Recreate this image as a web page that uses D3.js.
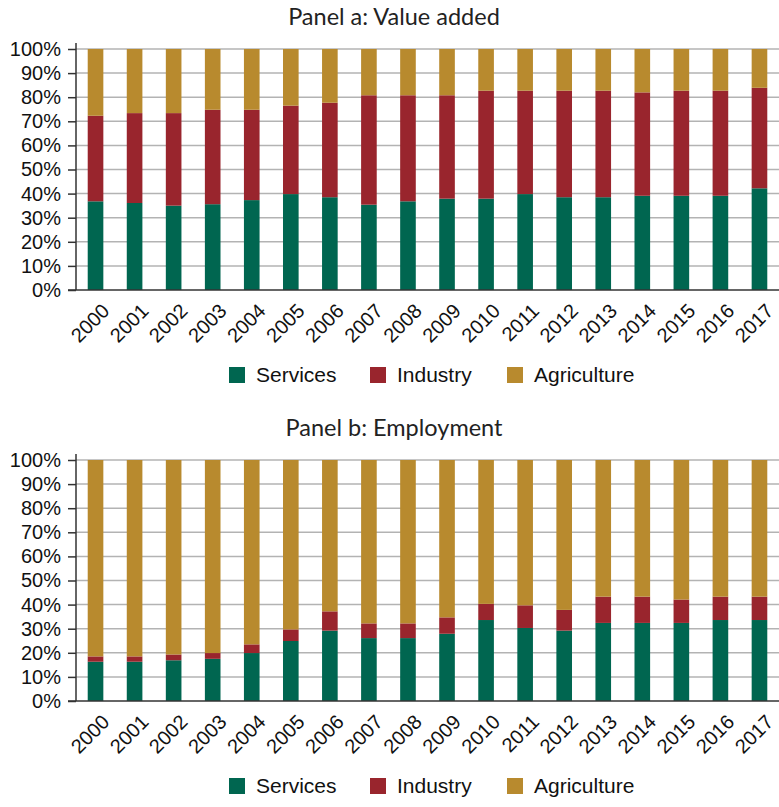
<!DOCTYPE html>
<html>
<head>
<meta charset="utf-8">
<script src="https://cdn.jsdelivr.net/npm/d3@7"></script>
<style>
  body { margin: 0; background: #fff; }
  svg { display: block; }
</style>
</head>
<body>
<div id="chart"></div>
<script>
// years on the x axis
var years = ["2000","2001","2002","2003","2004","2005","2006","2007","2008",
             "2009","2010","2011","2012","2013","2014","2015","2016","2017"];
var sectors = ["Services", "Industry", "Agriculture"];
var yTicks = [0, 10, 20, 30, 40, 50, 60, 70, 80, 90, 100];

// Panel a: value added shares (%)
var vaServices = [36.8, 36.1, 35.0, 35.6, 37.3, 39.8, 38.5, 35.4, 36.8, 37.9, 37.9, 39.8, 38.5, 38.5, 39.1, 39.1, 39.1, 42.2];
var vaIndustry = [35.5, 37.3, 38.4, 39.2, 37.5, 36.7, 39.2, 45.4, 44.0, 42.9, 44.8, 42.9, 44.2, 44.2, 42.9, 43.6, 43.6, 41.7];
var vaAgriculture = [27.7, 26.6, 26.6, 25.2, 25.2, 23.5, 22.3, 19.2, 19.2, 19.2, 17.3, 17.3, 17.3, 17.3, 18.0, 17.3, 17.3, 16.1];

// Panel b: employment shares (%)
var emServices = [16.3, 16.3, 16.9, 17.5, 19.9, 24.9, 29.2, 26.1, 26.1, 27.9, 33.6, 30.3, 29.2, 32.4, 32.4, 32.4, 33.6, 33.6];
var emIndustry = [2.2, 2.2, 2.4, 2.4, 3.6, 4.8, 8.0, 6.1, 6.1, 6.8, 6.7, 9.4, 8.6, 10.9, 10.9, 9.7, 9.7, 9.7];
var emAgriculture = [81.5, 81.5, 80.7, 80.1, 76.5, 70.3, 62.8, 67.8, 67.8, 65.3, 59.7, 60.3, 62.2, 56.7, 56.7, 57.9, 56.7, 56.7];

var colors = d3.scaleOrdinal()
  .domain(sectors)
  .range(["#006650", "#99252d", "#b88a2e"]);

var w = 779, h = 807;

var svg = d3.select("#chart").append("svg")
  .attr("width", w)
  .attr("height", h);

function buildRows(s, ind, ag) {
  return years.map(function(y, i) {
    return { Year: y, Services: s[i], Industry: ind[i], Agriculture: ag[i] };
  });
}

function drawPanel(title, rows, top) {
  var x0 = 76, x1 = 779;
  var yTop = top + 49, yBot = top + 290;

  var xScale = d3.scaleBand()
    .domain(years)
    .range([x0, x1])
    .paddingInner(0.6)
    .paddingOuter(0.3);

  var yScale = d3.scaleLinear()
    .domain([0, 100])
    .range([yBot, yTop]);

  var g = svg.append("g");

  // title
  g.append("text")
    .attr("x", 394)
    .attr("y", top + 25)
    .attr("text-anchor", "middle")
    .style("font-family", "Lato, 'Noto Sans', sans-serif")
    .style("font-size", "23.5px")
    .style("fill", "#222")
    .text(title);

  // gridlines
  g.selectAll(".grid")
    .data(yTicks.filter(function(d) { return d > 0; }))
    .enter().append("line")
    .attr("x1", x0)
    .attr("x2", x1)
    .attr("y1", function(d) { return yScale(d); })
    .attr("y2", function(d) { return yScale(d); })
    .style("stroke", "#b3b3b3")
    .style("stroke-width", 1.5);

  // stacked bars
  var stack = d3.stack().keys(sectors);
  var series = stack(rows);

  var groups = g.selectAll(".series")
    .data(series)
    .enter().append("g")
    .style("fill", function(d) { return colors(d.key); });

  groups.selectAll("rect")
    .data(function(d) { return d; })
    .enter().append("rect")
    .attr("x", function(d) { return xScale(d.data.Year); })
    .attr("y", function(d) { return yScale(Math.min(d[1], 100)); })
    .attr("height", function(d) { return yScale(d[0]) - yScale(Math.min(d[1], 100)); })
    .attr("width", xScale.bandwidth());

  // y axis
  var yAxis = d3.axisLeft(yScale)
    .tickValues(yTicks)
    .tickSize(8)
    .tickFormat(function(d) { return d + "%"; });

  var ya = g.append("g")
    .attr("transform", "translate(" + x0 + ",0)")
    .call(yAxis);
  ya.select(".domain").remove();
  ya.selectAll("line").style("stroke", "#333").style("stroke-width", 1.5);
  ya.selectAll("text")
    .attr("x", -15)
    .style("font-family", "'Liberation Sans', Arial, sans-serif")
    .style("font-size", "20px")
    .style("fill", "#111");

  g.append("line")
    .attr("x1", x0).attr("x2", x0)
    .attr("y1", yTop - 6).attr("y2", yBot)
    .style("stroke", "#333")
    .style("stroke-width", 1.5);

  // x axis
  var xa = g.append("g")
    .attr("transform", "translate(0," + yBot + ")")
    .call(d3.axisBottom(xScale).tickSize(0));
  xa.select(".domain").remove();
  g.append("line")
    .attr("x1", x0 - 8).attr("x2", x1)
    .attr("y1", yBot).attr("y2", yBot)
    .style("stroke", "#333")
    .style("stroke-width", 1.5);
  xa.selectAll("text")
    .attr("x", 0).attr("y", 0).attr("dy", 0)
    .attr("transform", "translate(5,12) rotate(-45)")
    .style("text-anchor", "end")
    .style("dominant-baseline", "hanging")
    .style("font-family", "'Liberation Sans', Arial, sans-serif")
    .style("font-size", "20px")
    .style("fill", "#111");

  // legend
  var legendX = [229, 370, 507];
  var legend = g.selectAll(".legend")
    .data(sectors)
    .enter().append("g")
    .attr("transform", function(d, i) { return "translate(" + legendX[i] + "," + (top + 367) + ")"; });

  legend.append("rect")
    .attr("width", 16)
    .attr("height", 16)
    .style("fill", function(d) { return colors(d); });

  legend.append("text")
    .attr("x", 27)
    .attr("y", 8)
    .attr("dy", ".35em")
    .style("font-family", "'Liberation Sans', Arial, sans-serif")
    .style("font-size", "21px")
    .style("fill", "#111")
    .text(function(d) { return d; });
}

drawPanel("Panel a: Value added", buildRows(vaServices, vaIndustry, vaAgriculture), 0);
drawPanel("Panel b: Employment", buildRows(emServices, emIndustry, emAgriculture), 411);
</script>
</body>
</html>
